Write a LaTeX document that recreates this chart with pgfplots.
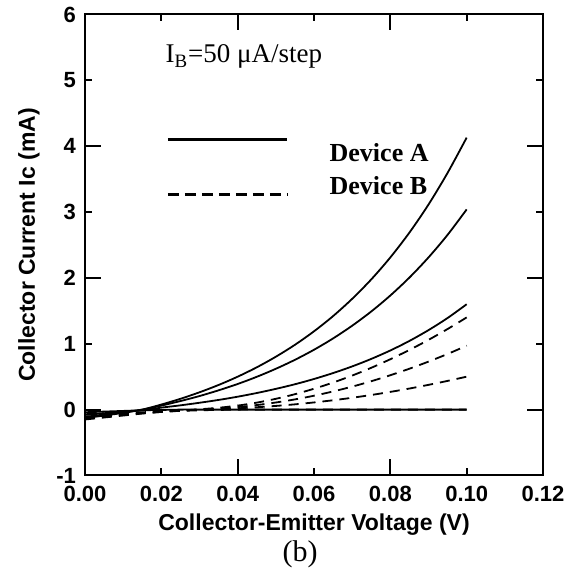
\documentclass[border=0pt]{standalone}
\usepackage{fontspec}
\setmainfont{Liberation Serif}
\setsansfont{Liberation Sans}
\usepackage{pgfplots}
\usepackage{pgfplotstable}
\pgfplotsset{compat=1.18}
\usetikzlibrary{calc}

% Ic-Vce curves, four base currents per device
\pgfplotstableread{
x     a1     a2     a3     a4     b1     b2     b3     b4
0     -0.13  -0.11  -0.08  -0.04  -0.15  -0.13  -0.11  -0.07
0.005 -0.09  -0.075 -0.055 -0.03  -0.12  -0.11  -0.09  -0.06
0.01  -0.05  -0.04  -0.03  -0.02  -0.09  -0.08  -0.07  -0.05
0.015  0.00   0.00  -0.01  -0.01  -0.06  -0.055 -0.05  -0.04
0.02   0.077  0.061  0.03  -0.005 -0.035 -0.035 -0.03  -0.03
0.025  0.164  0.130  0.065  0     -0.015 -0.015 -0.015 -0.02
0.03   0.263  0.206  0.104  0      0.005  0.0    0.0   -0.01
0.035  0.374  0.293  0.147  0      0.028  0.017  0.009 -0.005
0.04   0.500  0.389  0.196  0      0.061  0.039  0.02   0
0.045  0.642  0.498  0.252  0      0.106  0.069  0.036  0
0.05   0.803  0.620  0.315  0      0.164  0.108  0.056  0
0.055  0.984  0.756  0.385  0      0.234  0.155  0.08   0
0.06   1.189  0.909  0.465  0      0.317  0.211  0.109  0
0.065  1.420  1.081  0.555  0      0.411  0.276  0.142  0
0.07   1.682  1.274  0.656  0      0.517  0.349  0.18   0
0.075  1.977  1.490  0.770  0      0.635  0.431  0.222  0
0.08   2.311  1.733  0.898  0      0.765  0.522  0.269  0
0.085  2.688  2.005  1.043  0      0.906  0.621  0.32   0
0.09   3.114  2.311  1.207  0      1.059  0.729  0.376  0
0.095  3.595  2.654  1.391  0      1.224  0.845  0.436  0
0.1    4.13   3.04   1.60   0      1.40   0.97   0.50   0
}\ivdata

\begin{document}
\begin{tikzpicture}
\begin{axis}[
  name=ax,
  width=229pt, height=230.5pt, scale only axis,
  xmin=0, xmax=0.12, ymin=-1, ymax=6,
  xtick={0,0.02,0.04,0.06,0.08,0.10,0.12},
  xticklabels={0.00,0.02,0.04,0.06,0.08,0.10,0.12},
  ytick={-1,0,1,2,3,4,5,6},
  yticklabels={-1,0,1,2,3,4,5,6},
  extra x ticks={0.04,0.08},
  extra x tick labels={},
  extra y ticks={0,2,4},
  extra y tick labels={},
  major tick length=3.5pt,
  extra tick style={major tick length=8pt},
  tick align=inside,
  axis line style={line width=1pt},
  every tick/.style={black, line width=1pt},
  tick label style={font=\sffamily\bfseries\fontsize{11}{13}\selectfont},
  xticklabel style={yshift=-2pt},
  yticklabel style={xshift=-1pt},
  label style={font=\sffamily\bfseries\fontsize{11.5}{13}\selectfont},
  xlabel={Collector-Emitter Voltage (V)},
  ylabel={Collector Current Ic (mA)},
  xlabel style={yshift=1pt},
  ylabel style={yshift=1.5pt},
  clip=true,
]
\addplot[black, line width=0.9pt, smooth] table[x=x, y=a1] {\ivdata};
\addplot[black, line width=0.9pt, smooth] table[x=x, y=a2] {\ivdata};
\addplot[black, line width=0.9pt, smooth] table[x=x, y=a3] {\ivdata};
\addplot[black, line width=0.9pt, smooth] table[x=x, y=a4] {\ivdata};
\addplot[black, line width=0.9pt, smooth, dash pattern=on 5pt off 3.5pt] table[x=x, y=b1] {\ivdata};
\addplot[black, line width=0.9pt, smooth, dash pattern=on 5pt off 3.5pt] table[x=x, y=b2] {\ivdata};
\addplot[black, line width=0.9pt, smooth, dash pattern=on 5pt off 3.5pt] table[x=x, y=b3] {\ivdata};
\addplot[black, line width=0.9pt, smooth, dash pattern=on 5pt off 3.5pt] table[x=x, y=b4] {\ivdata};

% legend keys
\draw[black, line width=1.3pt] (axis cs:0.0217,4.10) -- (axis cs:0.0529,4.10);
\draw[black, line width=1.3pt, dash pattern=on 5.5pt off 3pt] (axis cs:0.0217,3.27) -- (axis cs:0.0529,3.27);
\node[anchor=west, inner sep=0pt, font=\bfseries\fontsize{13}{15}\selectfont] at (axis cs:0.064,3.90) {Device A};
\node[anchor=west, inner sep=0pt, font=\bfseries\fontsize{13}{15}\selectfont] at (axis cs:0.064,3.40) {Device B};
\node[anchor=west, inner sep=0pt, font=\fontsize{13.5}{15}\selectfont] at (axis cs:0.021,5.36) {I\textsubscript{B}=50 μA/step};
\end{axis}
\node[font=\fontsize{15}{17}\selectfont] at ($(ax.south)+(-7pt,-39.5pt)$) {(b)};
\path ($(ax.south west)+(-42.5pt,-48.5pt)$) rectangle ($(ax.north east)+(16pt,6pt)$);
\end{tikzpicture}
\end{document}
